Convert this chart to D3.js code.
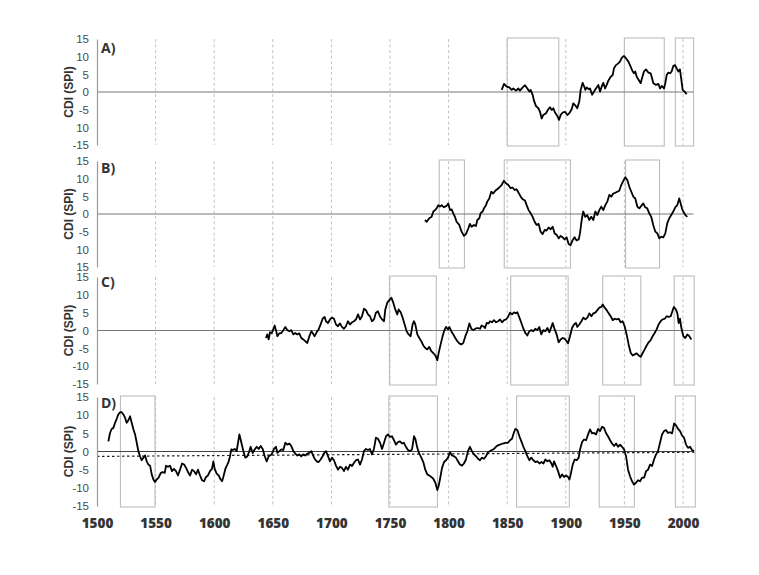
<!DOCTYPE html>
<html><head><meta charset="utf-8">
<script src="https://cdn.jsdelivr.net/npm/d3@7"></script>
<style>body{margin:0;background:#fff;} svg{display:block;}</style>
</head><body><svg id="c" width="759" height="575"></svg>
<script>
// ---------- data ----------
const xTickYears = [1500,1550,1600,1650,1700,1750,1800,1850,1900,1950,2000];
const gridYears = [1550,1600,1650,1700,1750,1800,1850,1900,1950,2000];
const yTickValues = [15,10,5,0,-5,-10,-15];
const yTickLabelsA = ["15","10","5","0","-5","10","-15"];
const yTickLabelsB = ["15","10","5","0","-5","10","15"];
const yTickLabelsC = ["15","10","5","0","-5","-10","-15"];
const yTickLabelsD = ["15","10","5","0","-5","-10","-15"];
const panelLabels = ["A)","B)","C)","D)"];
const yAxisTitle = "CDI (SPI)";

const seriesA = [[1845.3,0.6],[1847.3,2.3],[1849.6,1.5],[1851.8,1.3],[1853.8,0.6],[1855.2,1.0],[1857.5,0.4],[1859.5,1.0],[1860.9,0.4],[1863.2,1.3],[1865.2,1.9],[1867.2,1.0],[1868.9,0.1],[1870.0,0.6],[1871.7,-0.8],[1872.9,-2.5],[1874.6,-4.0],[1876.6,-4.6],[1878.0,-5.6],[1879.4,-7.5],[1880.8,-6.5],[1883.1,-6.0],[1885.1,-4.9],[1886.5,-4.3],[1888.0,-5.1],[1889.4,-4.6],[1890.8,-5.8],[1892.8,-6.8],[1894.2,-7.9],[1895.6,-6.5],[1897.3,-5.8],[1899.3,-5.6],[1901.3,-6.5],[1903.0,-6.0],[1905.0,-4.9],[1906.4,-3.2],[1907.9,-3.7],[1909.8,-4.6],[1911.5,-2.7],[1912.7,0.6],[1914.4,2.6],[1915.5,1.7],[1916.7,0.6],[1917.8,1.3],[1919.5,0.8],[1920.7,1.0],[1922.4,-0.8],[1923.5,-0.2],[1924.9,0.6],[1926.3,1.3],[1927.8,2.0],[1929.2,0.1],[1930.6,1.5],[1932.0,2.6],[1933.5,1.0],[1934.9,2.0],[1936.3,3.2],[1938.3,4.3],[1940.0,4.8],[1941.1,6.7],[1942.8,7.6],[1944.8,8.1],[1946.2,8.6],[1948.0,9.8],[1949.7,10.2],[1951.4,9.5],[1953.4,8.6],[1955.3,7.2],[1957.1,5.8],[1958.2,5.3],[1959.3,5.8],[1960.5,4.3],[1962.2,3.4],[1963.9,2.5],[1965.0,3.9],[1966.7,5.8],[1968.4,6.4],[1970.4,5.5],[1972.4,5.3],[1973.6,3.9],[1974.7,2.5],[1977.0,2.0],[1979.0,2.3],[1980.4,1.0],[1981.8,1.7],[1983.8,1.0],[1984.9,2.5],[1986.1,4.8],[1987.5,5.5],[1988.9,5.3],[1990.3,5.8],[1991.8,7.4],[1993.2,7.6],[1994.6,6.7],[1996.0,5.8],[1997.4,6.4],[1998.6,3.4],[1999.7,0.6],[2001.4,0.1],[2003.1,-0.6]];

const seriesB = [[1779.8,-1.7],[1781.3,-2.2],[1783.5,-1.2],[1785.5,-0.8],[1787.0,0.7],[1788.4,1.1],[1789.8,1.6],[1791.2,2.5],[1792.6,2.1],[1794.1,2.5],[1796.0,1.9],[1798.3,2.3],[1799.7,3.0],[1801.2,1.1],[1802.6,1.3],[1804.0,0.2],[1805.4,-0.8],[1806.8,-2.2],[1809.1,-3.1],[1811.1,-5.0],[1813.1,-6.2],[1814.8,-5.7],[1816.8,-4.1],[1818.2,-2.8],[1819.6,-3.6],[1821.6,-3.1],[1823.3,-3.4],[1824.5,-1.7],[1826.2,-1.2],[1827.3,0.2],[1829.0,0.7],[1830.2,1.6],[1831.9,2.5],[1833.0,3.5],[1834.7,4.4],[1836.4,6.3],[1838.1,5.8],[1839.8,6.6],[1841.5,7.0],[1843.2,7.5],[1845.2,8.2],[1847.2,9.4],[1848.9,8.7],[1851.0,8.2],[1852.9,7.3],[1854.6,7.5],[1856.3,6.8],[1858.0,7.0],[1859.7,6.0],[1861.5,4.9],[1863.2,4.2],[1865.2,3.8],[1866.6,2.5],[1868.3,1.1],[1870.0,0.2],[1871.7,-0.8],[1873.4,-2.2],[1875.1,-3.1],[1876.8,-2.8],[1878.5,-5.0],[1880.2,-5.7],[1882.0,-4.5],[1883.6,-4.7],[1885.3,-3.8],[1887.1,-4.3],[1888.8,-3.6],[1890.5,-5.5],[1892.2,-5.9],[1893.9,-6.9],[1895.6,-6.2],[1897.3,-6.6],[1899.0,-7.2],[1900.7,-6.6],[1902.4,-8.5],[1904.1,-8.8],[1905.8,-7.4],[1907.5,-6.6],[1909.2,-7.5],[1911.0,-7.2],[1912.1,-5.5],[1913.8,-1.2],[1914.9,0.7],[1916.6,-0.8],[1918.3,-0.3],[1920.0,-1.7],[1921.7,-0.8],[1923.5,-1.7],[1925.2,0.7],[1926.9,-0.3],[1928.6,1.1],[1930.3,2.1],[1932.0,1.1],[1933.7,2.5],[1935.4,3.5],[1937.1,5.4],[1938.8,4.9],[1940.5,5.8],[1942.2,6.0],[1943.9,6.3],[1945.6,6.6],[1947.3,8.2],[1949.1,9.4],[1950.8,10.4],[1952.5,9.6],[1954.2,7.7],[1955.9,6.3],[1957.6,4.9],[1959.3,4.4],[1961.0,2.1],[1962.7,1.6],[1964.4,2.3],[1966.1,3.0],[1967.8,1.9],[1969.5,1.6],[1971.2,0.2],[1972.9,-0.8],[1974.6,-3.1],[1976.4,-5.0],[1978.1,-5.5],[1979.8,-6.9],[1981.5,-6.4],[1983.2,-6.6],[1984.9,-5.5],[1986.6,-2.6],[1988.3,-1.2],[1990.0,-0.3],[1991.7,0.7],[1993.4,1.9],[1995.1,2.5],[1996.8,4.4],[1998.0,3.0],[1999.1,1.6],[2000.2,0.7],[2002.0,-0.3],[2003.7,-0.8]];

const seriesC = [[1644.2,-2.1],[1645.3,-1.1],[1646.5,-2.5],[1647.6,-0.5],[1649.0,-0.8],[1650.4,0.3],[1651.6,1.4],[1652.7,0.1],[1653.9,-1.6],[1655.6,-0.8],[1657.3,-0.7],[1659.0,0.1],[1660.7,1.0],[1662.4,0.1],[1664.1,-0.2],[1665.8,0.1],[1667.5,-1.1],[1669.2,-0.7],[1670.9,-1.1],[1672.6,-0.8],[1674.3,-2.1],[1676.0,-2.5],[1677.7,-3.0],[1679.4,-3.5],[1681.2,-1.6],[1682.9,-0.2],[1684.0,-0.7],[1685.7,-1.6],[1687.4,-0.5],[1689.1,0.3],[1690.8,1.7],[1692.5,3.3],[1694.2,3.8],[1695.4,2.6],[1697.1,2.1],[1698.8,3.1],[1700.5,3.6],[1702.2,3.3],[1703.9,1.7],[1705.6,1.2],[1707.3,2.0],[1709.0,1.0],[1710.7,0.5],[1712.4,1.2],[1714.1,2.6],[1715.9,1.7],[1717.6,2.3],[1719.3,2.6],[1721.0,3.1],[1722.7,4.5],[1724.4,3.1],[1726.1,4.0],[1727.8,6.1],[1729.5,5.7],[1731.2,4.5],[1732.9,4.0],[1734.6,2.6],[1736.3,3.1],[1738.0,5.0],[1739.7,5.4],[1741.4,4.0],[1743.2,3.1],[1744.9,2.6],[1746.0,5.9],[1747.7,7.8],[1749.4,8.5],[1751.1,9.2],[1752.8,7.8],[1754.5,5.9],[1756.2,4.5],[1757.4,5.9],[1759.1,5.1],[1760.8,3.6],[1762.5,1.7],[1764.2,-0.2],[1765.9,-1.1],[1767.6,-1.6],[1769.3,1.7],[1770.5,2.6],[1771.6,1.7],[1773.3,-1.1],[1775.0,-2.1],[1776.7,-3.0],[1778.4,-4.2],[1780.1,-4.9],[1781.8,-5.3],[1783.5,-4.6],[1785.2,-5.8],[1786.9,-6.3],[1788.7,-7.0],[1790.4,-8.3],[1791.5,-6.3],[1793.2,-3.9],[1794.9,-1.6],[1796.1,-0.2],[1797.8,1.0],[1799.5,0.3],[1800.6,1.0],[1802.3,-0.2],[1804.0,-1.1],[1805.7,-2.1],[1807.4,-3.0],[1809.1,-3.6],[1810.8,-3.9],[1812.5,-3.5],[1814.3,-1.6],[1816.0,-0.2],[1817.7,2.0],[1819.4,0.5],[1821.1,0.1],[1822.8,0.5],[1824.5,0.7],[1826.8,0.5],[1828.2,1.4],[1829.6,1.2],[1831.1,0.7],[1832.5,2.1],[1834.2,2.0],[1835.3,2.6],[1837.0,2.3],[1838.7,2.9],[1840.5,2.3],[1842.2,2.6],[1843.9,3.1],[1845.6,2.3],[1847.3,2.9],[1849.0,3.1],[1850.7,3.8],[1852.4,5.0],[1854.1,4.5],[1855.8,5.1],[1857.5,4.8],[1858.7,5.1],[1860.4,3.6],[1862.1,2.1],[1863.8,0.5],[1865.5,-0.7],[1867.2,-1.4],[1868.9,-0.2],[1870.6,0.1],[1872.3,-0.2],[1874.0,0.5],[1875.7,0.1],[1877.4,1.0],[1879.1,-1.1],[1880.8,0.1],[1882.5,-0.2],[1884.3,0.7],[1886.0,-0.5],[1887.7,1.0],[1888.8,2.1],[1890.5,0.3],[1892.2,-1.1],[1893.9,-3.3],[1895.6,-2.5],[1897.3,-2.1],[1899.0,-2.3],[1900.7,-3.0],[1901.9,-3.6],[1903.6,-1.6],[1905.3,0.7],[1907.0,1.7],[1908.7,2.1],[1909.8,1.0],[1911.5,1.7],[1913.3,2.6],[1915.0,3.6],[1916.7,3.1],[1918.4,3.6],[1920.1,4.8],[1921.8,4.0],[1923.5,4.8],[1925.2,5.0],[1926.9,5.7],[1928.6,6.4],[1930.3,6.6],[1931.5,7.3],[1933.2,6.4],[1934.9,5.7],[1936.6,4.8],[1938.3,4.0],[1940.0,2.9],[1941.7,3.3],[1943.4,3.1],[1945.1,3.3],[1946.8,2.3],[1948.5,2.6],[1950.2,1.2],[1951.9,-1.1],[1953.6,-3.9],[1955.4,-6.3],[1957.1,-7.0],[1958.8,-6.7],[1960.5,-6.4],[1962.2,-7.0],[1963.9,-7.4],[1965.6,-6.3],[1967.3,-5.3],[1969.0,-4.2],[1970.7,-3.3],[1972.4,-2.7],[1974.1,-1.6],[1975.8,-0.7],[1977.5,0.3],[1979.2,1.7],[1980.9,2.6],[1982.6,3.1],[1984.4,3.3],[1986.1,4.0],[1987.8,3.8],[1989.5,4.0],[1991.2,5.7],[1992.3,6.6],[1994.0,5.9],[1995.2,4.8],[1996.3,2.1],[1997.4,3.3],[1998.6,0.7],[2000.3,-1.6],[2002.0,-2.1],[2003.7,-1.1],[2005.4,-1.6],[2007.1,-2.5]];

const seriesD = [[1509.7,2.8],[1511.1,5.1],[1512.5,6.2],[1514.0,6.5],[1515.4,7.9],[1516.8,9.0],[1518.2,10.2],[1519.7,10.8],[1521.1,10.8],[1522.5,10.2],[1523.9,9.3],[1525.3,7.9],[1526.8,8.6],[1528.2,9.7],[1529.6,7.9],[1531.0,6.2],[1532.5,4.7],[1533.9,2.4],[1535.3,0.1],[1536.7,-1.3],[1538.1,-2.4],[1539.6,-1.7],[1541.0,-1.1],[1542.4,-2.7],[1543.8,-3.6],[1545.3,-3.9],[1546.7,-6.3],[1548.1,-7.7],[1549.5,-8.4],[1550.9,-7.7],[1552.6,-7.2],[1554.4,-5.9],[1556.1,-5.7],[1557.8,-5.9],[1558.9,-3.9],[1560.6,-4.2],[1562.3,-3.9],[1564.0,-5.4],[1565.7,-4.8],[1567.4,-5.4],[1569.1,-6.6],[1570.8,-5.0],[1572.6,-3.3],[1574.3,-3.6],[1576.0,-4.5],[1577.7,-5.7],[1579.4,-6.6],[1581.1,-5.0],[1582.8,-5.4],[1584.5,-6.3],[1586.2,-5.0],[1587.9,-6.6],[1589.6,-7.9],[1591.3,-8.2],[1593.0,-7.0],[1594.7,-6.6],[1596.4,-5.4],[1598.1,-4.8],[1599.3,-2.7],[1600.4,-4.8],[1602.1,-6.1],[1603.8,-6.6],[1605.5,-7.7],[1606.7,-8.2],[1607.8,-7.0],[1609.5,-4.8],[1611.2,-3.6],[1612.4,-2.7],[1613.5,-1.3],[1614.6,0.6],[1615.8,0.4],[1617.5,0.7],[1619.2,0.1],[1620.3,2.4],[1621.5,4.7],[1623.2,2.4],[1624.9,0.1],[1626.6,-1.7],[1628.3,-1.3],[1630.0,0.1],[1631.1,1.3],[1632.8,-0.4],[1634.6,0.6],[1636.3,1.3],[1638.0,0.7],[1639.7,1.5],[1641.4,0.7],[1643.1,-1.3],[1644.8,-2.7],[1646.5,-1.3],[1649.0,-0.8],[1651.0,0.7],[1652.7,1.3],[1653.9,-0.4],[1655.6,0.1],[1657.3,0.6],[1659.0,0.4],[1660.7,2.4],[1662.4,1.9],[1664.1,2.2],[1665.8,1.5],[1667.5,0.1],[1669.2,-0.6],[1670.9,-1.1],[1672.6,-0.8],[1674.3,-1.3],[1676.0,-0.8],[1677.7,-1.1],[1679.4,-0.6],[1681.2,-0.4],[1682.9,0.1],[1684.0,-0.8],[1685.7,-2.0],[1687.4,-2.7],[1689.1,-2.9],[1690.8,-2.2],[1692.5,-1.3],[1694.2,-0.2],[1695.4,0.1],[1697.1,-1.3],[1698.8,-2.7],[1700.5,-1.7],[1702.2,-2.4],[1703.9,-3.9],[1705.6,-5.0],[1707.3,-4.2],[1709.0,-4.5],[1710.7,-5.4],[1712.4,-4.2],[1714.1,-5.0],[1715.9,-3.6],[1717.6,-4.0],[1719.3,-3.1],[1721.0,-2.4],[1722.7,-2.2],[1724.4,-3.6],[1726.1,-2.2],[1727.8,0.1],[1729.5,0.7],[1731.2,0.4],[1732.9,0.7],[1734.6,-0.8],[1736.3,0.7],[1738.0,3.8],[1739.7,3.5],[1741.5,2.4],[1743.2,0.7],[1744.9,2.4],[1746.6,4.2],[1748.3,4.7],[1750.0,4.0],[1751.7,4.2],[1753.4,3.1],[1755.1,1.9],[1756.8,2.6],[1758.5,2.8],[1760.2,2.2],[1761.9,2.4],[1763.6,1.3],[1765.3,0.4],[1767.0,0.1],[1768.8,0.6],[1770.5,4.2],[1771.6,3.5],[1773.3,1.0],[1775.0,-0.6],[1776.7,-1.7],[1778.4,-2.9],[1780.1,-5.0],[1781.8,-6.3],[1783.5,-6.6],[1785.2,-7.0],[1786.9,-7.5],[1788.7,-8.6],[1790.4,-10.6],[1791.5,-9.5],[1792.6,-7.7],[1794.4,-4.5],[1796.1,-2.9],[1797.8,-2.4],[1799.5,-1.7],[1801.2,-0.2],[1802.9,-1.1],[1804.6,-1.3],[1806.3,-1.7],[1808.0,-2.7],[1809.7,-3.6],[1811.4,-3.9],[1813.1,-3.3],[1814.8,-2.2],[1816.5,0.1],[1818.2,1.3],[1819.9,0.1],[1821.7,-0.8],[1823.4,-1.3],[1825.1,-2.0],[1826.8,-2.4],[1828.5,-1.7],[1830.2,-2.0],[1831.9,-1.3],[1833.6,-0.2],[1835.3,0.1],[1837.0,0.4],[1838.7,0.7],[1840.4,1.3],[1842.1,1.7],[1843.8,1.9],[1846.2,2.2],[1848.5,2.4],[1850.7,2.4],[1852.4,3.1],[1854.1,3.5],[1855.8,5.3],[1857.0,6.2],[1858.7,5.9],[1860.4,4.2],[1862.1,2.8],[1863.8,1.3],[1865.5,0.1],[1867.2,-1.3],[1868.9,-2.4],[1870.6,-1.7],[1872.3,-2.4],[1874.0,-2.9],[1875.8,-2.7],[1877.5,-3.3],[1879.2,-2.9],[1880.9,-3.3],[1882.6,-2.2],[1884.3,-2.7],[1886.0,-2.4],[1887.7,-3.3],[1888.8,-4.2],[1890.0,-2.7],[1891.7,-4.0],[1893.4,-5.4],[1895.1,-7.2],[1896.8,-6.3],[1898.5,-7.0],[1900.2,-6.6],[1901.9,-7.0],[1903.1,-7.7],[1904.2,-6.3],[1905.9,-3.6],[1907.6,-2.2],[1909.3,-2.4],[1911.0,-1.7],[1912.2,0.6],[1913.9,2.6],[1915.6,3.3],[1917.3,3.1],[1919.0,4.7],[1920.7,6.1],[1922.4,5.0],[1924.1,5.1],[1925.8,4.7],[1927.5,6.2],[1929.2,5.6],[1930.9,6.8],[1932.6,6.5],[1934.3,5.1],[1936.0,4.2],[1937.8,3.1],[1939.5,2.2],[1941.2,1.5],[1942.9,2.2],[1944.6,1.3],[1946.3,1.9],[1948.0,1.3],[1949.7,0.6],[1951.4,-1.3],[1953.1,-5.0],[1954.8,-6.8],[1956.5,-8.2],[1958.2,-9.1],[1959.9,-8.6],[1961.6,-7.9],[1963.4,-8.2],[1965.1,-7.2],[1966.8,-7.2],[1968.5,-5.4],[1970.2,-5.0],[1971.9,-3.6],[1973.6,-4.0],[1975.3,-2.2],[1977.0,-0.8],[1978.7,0.1],[1980.4,2.4],[1982.1,4.7],[1983.8,5.6],[1985.5,5.9],[1987.2,5.1],[1988.9,5.3],[1990.7,5.0],[1992.4,7.7],[1994.1,7.2],[1995.8,6.2],[1997.5,5.6],[1999.2,4.4],[2000.9,3.8],[2002.6,1.9],[2004.3,1.0],[2006.0,1.3],[2007.7,0.4],[2009.4,0.1]];

const boxesA = [[1850,1894],[1950,1984],[1993.5,2009]];
const boxesB = [[1792,1813.5],[1847.5,1904],[1951,1980]];
const boxesC = [[1749.5,1789.5],[1853,1902],[1931.5,1964],[1992.5,2009.5]];
const boxesD = [[1520,1549.5],[1749,1790.5],[1858,1903],[1928.5,1958.5],[1993.5,2010.5]];
const trendD = [[1500,-1.35],[2010,-0.2]];
const zeroLineSpan = [1500,2009];

// ---------- layout ----------
const svg = d3.select("#c");
const x = d3.scaleLinear().domain([1500,2000]).range([97,683]);
const panels = [
  {top:39, bottom:145, labels:yTickLabelsA, series:seriesA, boxes:boxesA, labelY:53},
  {top:161, bottom:267, labels:yTickLabelsB, series:seriesB, boxes:boxesB, labelY:173},
  {top:277, bottom:384, labels:yTickLabelsC, series:seriesC, boxes:boxesC, labelY:287},
  {top:397, bottom:506, labels:yTickLabelsD, series:seriesD, boxes:boxesD, labelY:408, trend:trendD}
];

panels.forEach((p,i)=>{
  const y = d3.scaleLinear().domain([15,-15]).range([p.top,p.bottom]);
  const g = svg.append("g");
  g.selectAll("line.grid").data(gridYears).enter().append("line")
    .attr("x1",d=>x(d)).attr("x2",d=>x(d))
    .attr("y1",y(15)).attr("y2",y(-15))
    .attr("stroke","#c4c4c4").attr("stroke-width",1).attr("stroke-dasharray","3,2.5");
  g.selectAll("rect.box").data(p.boxes).enter().append("rect")
    .attr("x",d=>x(d[0])).attr("width",d=>x(d[1])-x(d[0]))
    .attr("y",y(15)-1).attr("height",y(-15)-y(15)+2)
    .attr("fill","none").attr("stroke","#bdbdbd").attr("stroke-width",1.1);
  g.append("line").attr("x1",x(zeroLineSpan[0])).attr("x2",x(zeroLineSpan[1]))
    .attr("y1",y(0)).attr("y2",y(0))
    .attr("stroke", i===3 ? "#444" : "#777").attr("stroke-width",1.1);
  if(p.trend){
    g.append("line").attr("x1",x(p.trend[0][0])).attr("x2",x(p.trend[1][0]))
      .attr("y1",y(p.trend[0][1])).attr("y2",y(p.trend[1][1]))
      .attr("stroke","#222").attr("stroke-width",1.2).attr("stroke-dasharray","2.5,2.5");
  }
  const ax = g.append("g").attr("transform","translate(97,0)")
    .call(d3.axisLeft(y).tickValues(yTickValues).tickSize(0).tickPadding(8)
      .tickFormat((d,k)=>p.labels[k]));
  ax.select(".domain").attr("stroke","#999").attr("stroke-width",1.2);
  ax.selectAll("text").attr("font-family","'Liberation Sans', Arial, sans-serif")
    .attr("font-size","11.5px").attr("fill","#4a4a4a");
  const line = d3.line().x(d=>x(d[0])).y(d=>y(d[1]));
  g.append("path").datum(p.series).attr("d",line)
    .attr("fill","none").attr("stroke","#000").attr("stroke-width",1.8)
    .attr("stroke-linejoin","round");
  g.append("text").attr("x",101).attr("y",p.labelY).text(panelLabels[i])
    .attr("font-family","'Open Sans', sans-serif").attr("font-weight","bold")
    .attr("font-size","14px").attr("fill","#333");
  g.append("text").attr("transform",`translate(72.5,${y(0)}) rotate(-90)`)
    .attr("text-anchor","middle").text(yAxisTitle)
    .attr("font-family","'Liberation Sans', Arial, sans-serif").attr("font-weight","bold")
    .attr("font-size","12px").attr("fill","#333");
});

const xa = svg.append("g").attr("transform","translate(0,514.5)")
  .call(d3.axisBottom(x).tickValues(xTickYears).tickSize(0).tickPadding(4).tickFormat(d3.format("d")));
xa.select(".domain").remove();
xa.selectAll("text").attr("font-family","'Open Sans', sans-serif").attr("font-weight","800")
  .attr("font-size","13.5px").attr("fill","#333");
</script></body></html>
